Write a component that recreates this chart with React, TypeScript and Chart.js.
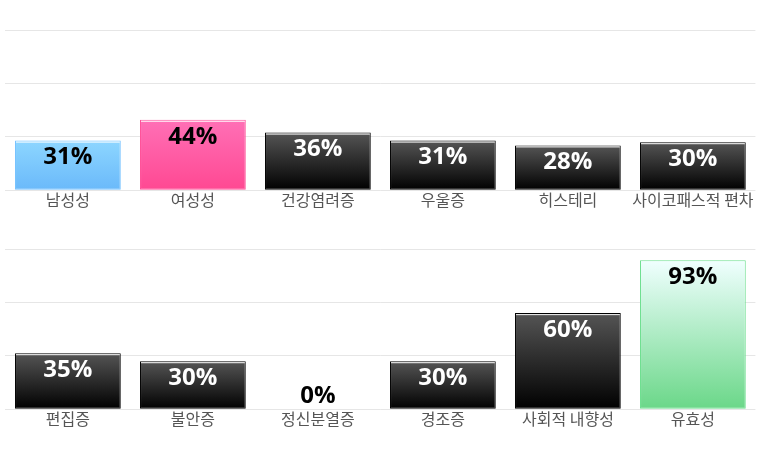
import { useEffect, useRef } from "react";
import Chart from "chart.js/auto";

const topCategories = ["남성성", "여성성", "건강염려증", "우울증", "히스테리", "사이코패스적 편차"];
const topValues = [31, 44, 36, 31, 28, 30];
const topPalette = ["blue", "pink", "black", "black", "black", "black"];

const bottomCategories = ["편집증", "불안증", "정신분열증", "경조증", "사회적 내향성", "유효성"];
const bottomValues = [35, 30, 0, 30, 60, 93];
const bottomPalette = ["black", "black", "black", "black", "black", "green"];

const gridTicks = [0, 100 / 3, 200 / 3, 100];

const swatches: { [key: string]: { top: string; bottom: string; border: string; text: string } } = {
  blue: { top: "#8dd6ff", bottom: "#6ab9fa", border: "#74c2ff", text: "#000000" },
  pink: { top: "#ff70b6", bottom: "#ff4892", border: "#ff4f98", text: "#000000" },
  black: { top: "#555555", bottom: "#000000", border: "#000000", text: "#ffffff" },
  green: { top: "#f0ffff", bottom: "#6ad788", border: "#6ddf8f", text: "#000000" },
};

const barDecor = {
  id: "barDecor",
  afterDatasetsDraw(chart: any) {
    const ctx = chart.ctx;
    const palette: string[] = chart.options.plugins.barDecor.palette;
    const values = chart.data.datasets[0].data as number[];
    const base = chart.scales.y.getPixelForValue(0);
    ctx.save();
    chart.getDatasetMeta(0).data.forEach((bar: any, i: number) => {
      const sw = swatches[palette[i]];
      const left = bar.x - bar.width / 2;
      if (values[i] > 0 && palette[i] !== "green") {
        ctx.fillStyle = "rgba(255,255,255,0.95)";
        ctx.fillRect(left + 1, bar.y + 1, bar.width - 2, 1);
      }
      ctx.font = 'bold 24px "Open Sans", "Noto Sans", sans-serif';
      ctx.textAlign = "center";
      ctx.textBaseline = "middle";
      ctx.fillStyle = values[i] > 0 ? sw.text : "#000000";
      ctx.fillText(`${values[i]}%`, bar.x, Math.min(bar.y + 17, base - 13));
    });
    ctx.restore();
  },
};

function BarRow({ categories, values, palette }: { categories: string[]; values: number[]; palette: string[] }) {
  const chartRef = useRef<HTMLCanvasElement>(null);
  const chartInstanceRef = useRef<Chart | null>(null);

  useEffect(() => {
    if (!chartRef.current) return;
    if (chartInstanceRef.current) chartInstanceRef.current.destroy();

    const fillFor = (context: any) => {
      const chart = context.chart;
      const sw = swatches[palette[context.dataIndex]];
      if (!chart.chartArea || !chart.scales.y) return sw.bottom;
      const y = chart.scales.y;
      const top = y.getPixelForValue(values[context.dataIndex]);
      const bottom = y.getPixelForValue(0);
      const g = chart.ctx.createLinearGradient(0, top, 0, Math.max(bottom, top + 1));
      g.addColorStop(0, sw.top);
      g.addColorStop(1, sw.bottom);
      return g;
    };

    chartInstanceRef.current = new Chart(chartRef.current, {
      type: "bar",
      data: {
        labels: categories,
        datasets: [
          {
            data: values,
            backgroundColor: fillFor,
            borderColor: (c: any) => swatches[palette[c.dataIndex]].border,
            borderWidth: (c: any) => (values[c.dataIndex] > 0 ? 1 : 0),
            borderSkipped: false,
            categoryPercentage: 1,
            barPercentage: 0.846,
          },
        ],
      },
      options: {
        animation: false,
        responsive: true,
        maintainAspectRatio: false,
        layout: { padding: { top: 30, left: 5.4, right: 4.6, bottom: 10.5 } },
        plugins: {
          legend: { display: false },
          tooltip: { enabled: false },
          barDecor: { palette },
        } as any,
        scales: {
          x: {
            grid: { display: false, drawTicks: false },
            border: { display: false },
            ticks: {
              padding: 0,
              color: "#555555",
              font: { family: '"Noto Sans CJK KR", "Noto Sans", sans-serif', size: 16 },
              maxRotation: 0,
              autoSkip: false,
            },
          },
          y: {
            min: 0,
            max: 100,
            afterBuildTicks: (scale: any) => {
              scale.ticks = gridTicks.map((v) => ({ value: v }));
            },
            grid: { color: "#e6e6e6", drawTicks: false },
            border: { display: false },
            ticks: { display: false },
          },
        },
      },
      plugins: [barDecor],
    });

    return () => {
      if (chartInstanceRef.current) chartInstanceRef.current.destroy();
    };
  }, [categories, values, palette]);

  return (
    <div style={{ position: "relative", width: 760, height: 220 }}>
      <canvas ref={chartRef} />
    </div>
  );
}

export default function App() {
  return (
    <div style={{ position: "absolute", left: 0, top: 0, width: 760, height: 470, background: "#ffffff" }}>
      <BarRow categories={topCategories} values={topValues} palette={topPalette} />
      <div style={{ position: "absolute", left: 0, top: 219, width: 760 }}>
        <BarRow categories={bottomCategories} values={bottomValues} palette={bottomPalette} />
      </div>
    </div>
  );
}
